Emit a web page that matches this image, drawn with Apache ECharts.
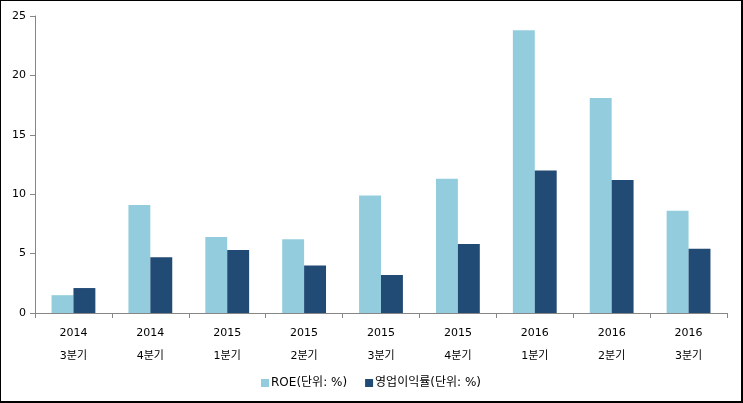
<!DOCTYPE html>
<html>
<head>
<meta charset="utf-8">
<script src="https://cdn.jsdelivr.net/npm/echarts@6/dist/echarts.min.js"></script>
<style>
html,body{margin:0;padding:0;background:#fff;}
#c{width:743px;height:403px;box-sizing:border-box;border:1px solid #000;border-right:2px solid #000;border-bottom:2px solid #000;}
</style>
</head>
<body>
<div id="c"></div>
<script>
const categories = ['2014\n3분기','2014\n4분기','2015\n1분기','2015\n2분기','2015\n3분기','2015\n4분기','2016\n1분기','2016\n2분기','2016\n3분기'];
const roe = [1.5, 9.1, 6.4, 6.2, 9.9, 11.3, 23.8, 18.1, 8.6];
const opMargin = [2.1, 4.7, 5.3, 4.0, 3.2, 5.8, 12.0, 11.2, 5.4];
const seriesNames = ['ROE(단위: %)', '영업이익률(단위: %)'];
const yTicks = {min: 0, max: 25, interval: 5};

const chart = echarts.init(document.getElementById('c'), null, {renderer: 'canvas'});
const font = '"DejaVu Sans", "Noto Sans CJK KR", sans-serif';
chart.setOption({
  animation: false,
  textStyle: {fontFamily: font},
  grid: {left: 34, right: 14, top: 15, bottom: 88},
  legend: {
    bottom: 7, left: 'center', itemWidth: 8, itemHeight: 8, itemGap: 18,
    icon: 'rect',
    textStyle: {fontSize: 12, color: '#000', fontFamily: font, padding: [0,0,0,-3]},
    data: seriesNames
  },
  xAxis: {
    type: 'category', data: categories,
    axisLine: {lineStyle: {color: '#868686', width: 1}},
    axisTick: {show: true, length: 5, lineStyle: {color: '#868686'}},
    axisLabel: {fontSize: 11, color: '#000', lineHeight: 23, margin: 9, fontFamily: font}
  },
  yAxis: {
    type: 'value', min: yTicks.min, max: yTicks.max, interval: yTicks.interval,
    axisLine: {show: true, lineStyle: {color: '#868686', width: 1}},
    axisTick: {show: true, length: 5, lineStyle: {color: '#868686'}},
    splitLine: {show: false},
    axisLabel: {fontSize: 11, color: '#000', margin: 9, fontFamily: font}
  },
  series: [
    {name: seriesNames[0], type: 'bar', data: roe, itemStyle: {color: '#93CDDD'}, barGap: '0%', barCategoryGap: '43%'},
    {name: seriesNames[1], type: 'bar', data: opMargin, itemStyle: {color: '#214A75'}, barGap: '0%', barCategoryGap: '43%'}
  ]
});
</script>
</body>
</html>
